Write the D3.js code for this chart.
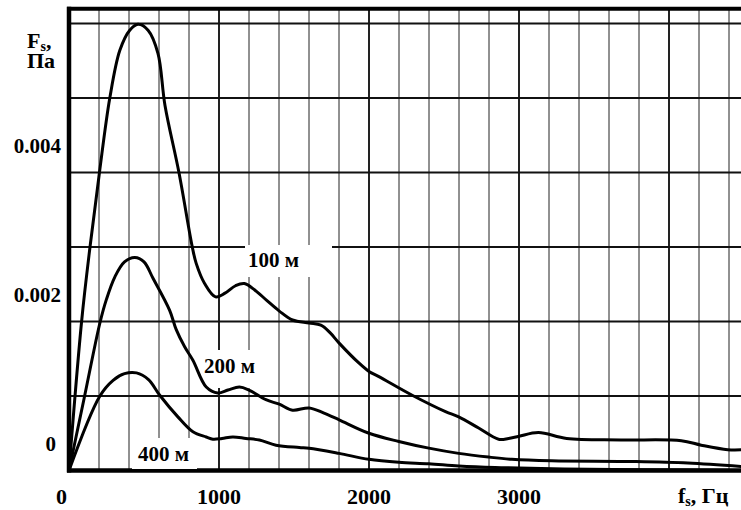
<!DOCTYPE html>
<html><head><meta charset="utf-8">
<script src="https://cdn.jsdelivr.net/npm/d3@7"></script>
<style>html,body{margin:0;padding:0;background:#fff;}svg{display:block;}</style>
</head><body>
<script>
// ---- data ----
const seriesNames = ["100 м", "200 м", "400 м"];
const curve100 = [[0,0],[84,0.002],[140,0.003],[203,0.004],[272,0.005],[339,0.00564],[405,0.00591],[460,0.00599],[527,0.00591],[593,0.0056],[640,0.0049],[733,0.004],[822,0.003],[848,0.00278],[904,0.00251],[977,0.00233],[1040,0.00238],[1110,0.00248],[1169,0.00251],[1240,0.00242],[1320,0.00228],[1402,0.00214],[1490,0.00202],[1601,0.00198],[1679,0.00195],[1740,0.00185],[1801,0.00171],[1934,0.00144],[2000,0.00133],[2066,0.00126],[2288,0.00101],[2510,0.00079],[2598,0.00072],[2731,0.00057],[2864,0.00042],[2930,0.00043],[3000,0.00046],[3130,0.00051],[3318,0.00043],[3680,0.00041],[4082,0.0004],[4215,0.00034],[4392,0.00028],[4500,0.00028]];
const curve200 = [[0,0],[100,0.00096],[206,0.00198],[250,0.0023],[306,0.0026],[370,0.0028],[439,0.00286],[500,0.0028],[560,0.00258],[671,0.00215],[715,0.00189],[771,0.00166],[826,0.00148],[915,0.00112],[992,0.00104],[1060,0.00108],[1136,0.00112],[1200,0.00108],[1313,0.00095],[1402,0.00089],[1490,0.00081],[1601,0.00084],[1700,0.00077],[1801,0.00068],[2000,0.0005],[2199,0.00039],[2399,0.0003],[2598,0.00023],[2797,0.00018],[2952,0.00015],[3218,0.00013],[3772,0.00012],[4126,0.0001],[4500,0.00005]];
const curve400 = [[0,0],[206,0.001],[294,0.00121],[370,0.0013],[450,0.00131],[530,0.00122],[605,0.00101],[726,0.00072],[826,0.00052],[915,0.00045],[959,0.00042],[1020,0.00043],[1092,0.00045],[1180,0.00043],[1269,0.00041],[1380,0.00034],[1535,0.00031],[1601,0.0003],[1801,0.00023],[2000,0.00015],[2199,0.00011],[2399,0.00009],[2598,0.00006],[2842,0.00004],[3000,0.000035],[3300,0.00002],[3800,0.00001],[4500,0]];
const xTickValues = [0, 1000, 2000, 3000];
const yTickValues = [0, 0.002, 0.004];
const yTickLabels = ["0", "0.002", "0.004"];
const xGridValues = d3.range(200, 4600, 200);
const yGridValues = [0.001, 0.002, 0.003, 0.004, 0.005, 0.006];
const yAxisTitle = ["F", "s", ",", "Па"];
const xAxisTitle = ["f", "s", ", Гц"];

// ---- layout ----
const W = 741, H = 510;
const x = d3.scaleLinear().domain([0, 1000]).range([69, 219]);
const y = d3.scaleLinear().domain([0, 0.001]).range([470.5, 396]);
const topY = 8.7, rightX = 760;
const font = "'Liberation Serif', 'Times New Roman', serif";

const svg = d3.select("body").append("svg").attr("width", W).attr("height", H);

// grid
svg.append("g").selectAll("line").data(xGridValues).join("line")
  .attr("x1", d => x(d)).attr("x2", d => x(d))
  .attr("y1", topY).attr("y2", y(0))
  .attr("stroke", "#222").attr("stroke-width", d => d % 1000 === 0 ? 2 : 1);
svg.append("g").selectAll("line").data(yGridValues).join("line")
  .attr("x1", x(0)).attr("x2", rightX)
  .attr("y1", d => y(d)).attr("y2", d => y(d))
  .attr("stroke", "#111").attr("stroke-width", 2);

// frame
svg.append("line").attr("x1", x(0) - 2).attr("x2", rightX).attr("y1", topY).attr("y2", topY)
  .attr("stroke", "#000").attr("stroke-width", 4);
svg.append("line").attr("x1", x(0) - 2).attr("x2", rightX).attr("y1", y(0)).attr("y2", y(0))
  .attr("stroke", "#000").attr("stroke-width", 4.5);

// series label boxes (under curves)
const labelBoxes = [
  {x0: 245, x1: 332, y0: 245, y1: 277, tx: 248, ty: 267},
  {x0: 199, x1: 264, y0: 350, y1: 388, tx: 204, ty: 373},
  {x0: 132, x1: 197, y0: 438, y1: 469, tx: 138, ty: 461}
];
labelBoxes.forEach(b => {
  svg.append("rect").attr("x", b.x0).attr("y", b.y0).attr("width", b.x1 - b.x0).attr("height", b.y1 - b.y0).attr("fill", "#fff");
});
svg.append("line").attr("x1", x(0)).attr("x2", x(0)).attr("y1", topY - 2).attr("y2", y(0) + 2)
  .attr("stroke", "#000").attr("stroke-width", 4.5);

// curves
const line = d3.line().x(d => x(d[0])).y(d => y(d[1])).curve(d3.curveCatmullRom.alpha(0.5));
[curve100, curve200, curve400].forEach(c => {
  svg.append("path").datum(c).attr("d", line)
    .attr("fill", "none").attr("stroke", "#000").attr("stroke-width", 3)
    .attr("stroke-linejoin", "round");
});

seriesNames.forEach((n, i) => {
  const b = labelBoxes[i];
  svg.append("text").attr("x", b.tx).attr("y", b.ty).text(n)
    .attr("font-family", font).attr("font-weight", "bold").attr("font-size", 21);
});

// y tick labels
svg.append("g").selectAll("text").data(yTickValues).join("text")
  .attr("x", d => d === 0 ? 56 : 61).attr("y", d => y(d) - 20)
  .attr("text-anchor", "end")
  .attr("font-family", font).attr("font-weight", "bold").attr("font-size", 21)
  .text((d, i) => yTickLabels[i]);

// x tick labels
svg.append("g").selectAll("text").data(xTickValues).join("text")
  .attr("x", d => d === 0 ? x(d) - 2 : x(d)).attr("y", 504)
  .attr("text-anchor", d => d === 0 ? "end" : "middle")
  .attr("font-family", font).attr("font-weight", "bold").attr("font-size", 22)
  .text(d => d);

// axis titles
const yt = svg.append("text").attr("x", 27).attr("y", 48)
  .attr("font-family", font).attr("font-weight", "bold").attr("font-size", 22);
yt.append("tspan").text(yAxisTitle[0]);
yt.append("tspan").text(yAxisTitle[1]).attr("font-size", 14).attr("dy", 3);
yt.append("tspan").text(yAxisTitle[2]).attr("dy", -3);
svg.append("text").attr("x", 27).attr("y", 68).text(yAxisTitle[3])
  .attr("font-family", font).attr("font-weight", "bold").attr("font-size", 22);

const xt = svg.append("text").attr("x", 678).attr("y", 503)
  .attr("font-family", font).attr("font-weight", "bold").attr("font-size", 22);
xt.append("tspan").text(xAxisTitle[0]);
xt.append("tspan").text(xAxisTitle[1]).attr("font-size", 14).attr("dy", 3);
xt.append("tspan").text(xAxisTitle[2]).attr("dy", -3);
</script>
</body></html>
